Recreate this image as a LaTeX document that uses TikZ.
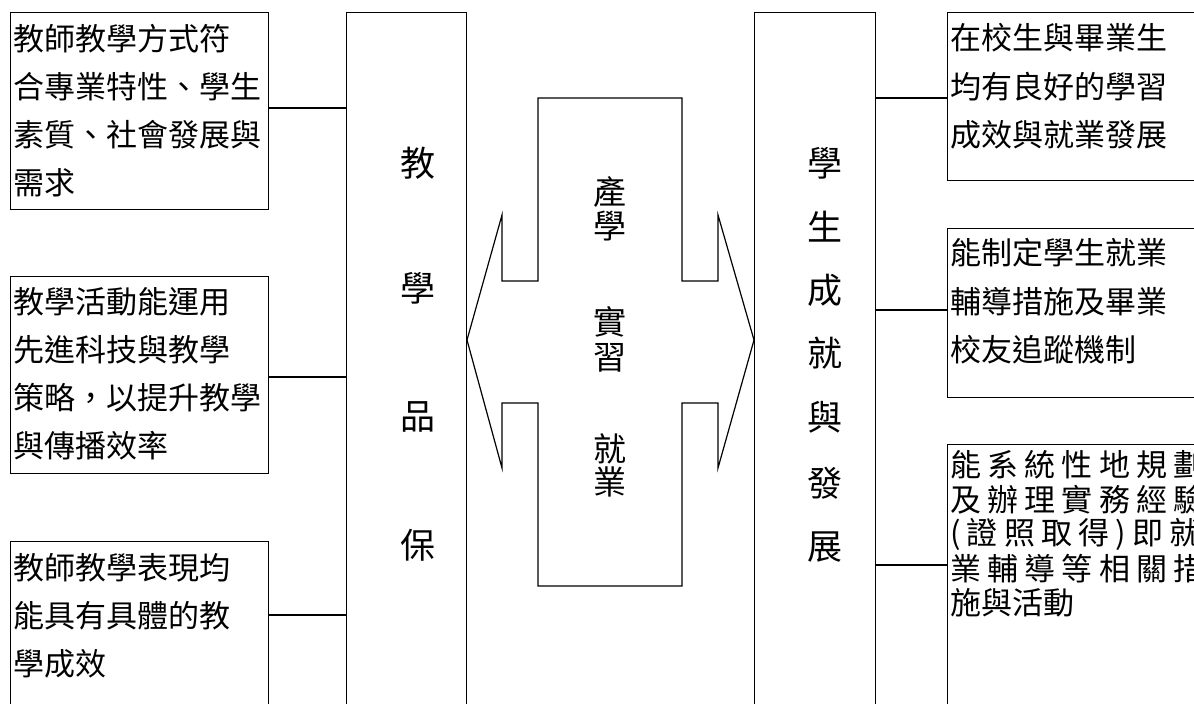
\documentclass[tikz,border=0pt]{standalone}
\usepackage{fontspec}
\setmainfont{Noto Sans CJK TC}
\newfontfamily\widecjk[LetterSpace=20]{Noto Sans CJK TC}
\begin{document}
\begin{tikzpicture}[x=1pt,y=-1pt,
  box/.style={draw, line width=1.2pt, anchor=north west, inner sep=0pt, rectangle},
  conn/.style={line width=1.2pt},
  txt/.style={anchor=west, inner sep=0pt, font=\fontsize{31}{31}\selectfont},
  widetxt/.style={anchor=west, inner sep=0pt, font=\fontsize{31}{31}\selectfont\widecjk},
  vtxt/.style={inner sep=0pt, font=\fontsize{35}{35}\selectfont},
  ctxt/.style={inner sep=0pt, font=\fontsize{33}{33}\selectfont}]
\useasboundingbox (0,0) rectangle (1194,704);
\fill[white] (0,0) rectangle (1194,704);

% left boxes
\node[box, minimum width=258pt, minimum height=197pt] (b1) at (10,12) {};
\node[box, minimum width=258pt, minimum height=197pt] (b2) at (10,276) {};
\node[box, minimum width=258pt, minimum height=190pt] (b3) at (10,541) {};
% tall boxes
\node[box, minimum width=120pt, minimum height=720pt] (tl) at (346,12) {};
\node[box, minimum width=121pt, minimum height=720pt] (tr) at (754,12) {};
% right boxes
\node[box, minimum width=270pt, minimum height=168pt] (r1) at (947,12) {};
\node[box, minimum width=270pt, minimum height=169pt] (r2) at (947,228) {};
\node[box, minimum width=270pt, minimum height=290pt] (r3) at (947,444) {};

% connectors
\draw[conn] (b1.east |- 0,108) -- (tl.west |- 0,108);
\draw[conn] (b2.east |- 0,377) -- (tl.west |- 0,377);
\draw[conn] (b3.east |- 0,615) -- (tl.west |- 0,615);
\draw[conn] (tr.east |- 0,98) -- (r1.west |- 0,98);
\draw[conn] (tr.east |- 0,310) -- (r2.west |- 0,310);
\draw[conn] (tr.east |- 0,565) -- (r3.west |- 0,565);

% centre double arrow
\draw[line width=1.2pt] (538,98) -- (682,98) -- (682,281) -- (718,281) -- (718,215)
  -- (754,340) -- (718,468) -- (718,403) -- (682,403) -- (682,586) -- (538,586)
  -- (538,403) -- (502,403) -- (502,468) -- (467,340) -- (502,215) -- (502,281)
  -- (538,281) -- cycle;

% left box texts
\node[txt] (b1t1) at (13,39) {教師教學方式符};
\node[txt] (b1t2) at (13,87) {合專業特性、學生};
\node[txt] (b1t3) at (13,135) {素質、社會發展與};
\node[txt] (b1t4) at (13,183) {需求};
\node[txt] (b2t1) at (13,302) {教學活動能運用};
\node[txt] (b2t2) at (13,350) {先進科技與教學};
\node[txt] (b2t3) at (13,398) {策略，以提升教學};
\node[txt] (b2t4) at (13,446) {與傳播效率};
\node[txt] (b3t1) at (13,568) {教師教學表現均};
\node[txt] (b3t2) at (13,616) {能具有具體的教};
\node[txt] (b3t3) at (13,664) {學成效};

% right box texts
\node[txt] (r1t1) at (950,38) {在校生與畢業生};
\node[txt] (r1t2) at (950,87) {均有良好的學習};
\node[txt] (r1t3) at (950,135) {成效與就業發展};
\node[txt] (r2t1) at (950,253) {能制定學生就業};
\node[txt] (r2t2) at (950,302) {輔導措施及畢業};
\node[txt] (r2t3) at (950,350) {校友追蹤機制};
\node[widetxt] (r3t1) at (950,465) {能系統性地規劃};
\node[widetxt] (r3t2) at (950,499.5) {及辦理實務經驗};
\node[widetxt] (r3t3) at (950,534) {(證照取得)即就};
\node[widetxt] (r3t4) at (950,568.5) {業輔導等相關措};
\node[txt] (r3t5) at (950,603) {施與活動};

% vertical labels
\foreach \c/\yy [count=\i] in {教/163,學/288,品/417,保/545}
  \node[vtxt] (tlc\i) at (418,\yy) {\c};
\foreach \c/\yy [count=\i] in {學/163,生/227,成/290,就/353,與/417,發/483,展/547}
  \node[vtxt] (trc\i) at (825,\yy) {\c};
\foreach \c/\yy [count=\i] in {產/192,學/226,實/322,習/358,就/449,業/482}
  \node[ctxt] (cc\i) at (610,\yy) {\c};
\end{tikzpicture}
\end{document}
